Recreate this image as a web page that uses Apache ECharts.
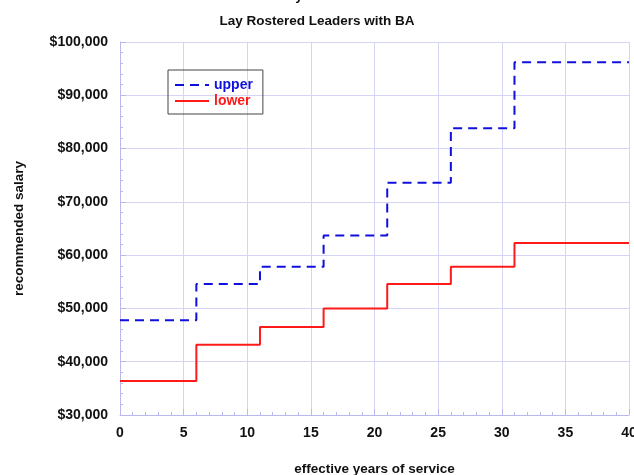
<!DOCTYPE html>
<html>
<head>
<meta charset="utf-8">
<script src="https://cdn.jsdelivr.net/npm/echarts@6/dist/echarts.min.js"></script>
<style>
  html, body { margin: 0; padding: 0; background: #fff; }
  #chart { width: 634px; height: 475px; }
</style>
</head>
<body>
<div id="chart"></div>
<script>
// step breakpoints (years) and salary levels
const years = [0, 6, 11, 16, 21, 26, 31, 40]
const upper = [47800, 54600, 57800, 63700, 73600, 83800, 96200, 96200]
const lower = [36400, 43200, 46500, 50000, 54600, 57800, 62300, 62300]

const toPairs = (vals) => years.map((y, i) => [y, vals[i]])

const chart = echarts.init(document.getElementById('chart'))

const font = 'Liberation Sans, Arial, sans-serif'
const gridColor = '#d4d4f6'
const axisColor = '#b8b8ee'

const option = {
  animation: false,
  title: {
    text: 'Lay Rostered Leaders with BA',
    left: 'center',
    top: 9,
    textStyle: { fontFamily: font, fontSize: 13.5, fontWeight: 'bold', color: '#111' }
  },
  graphic: [
    {
      type: 'text',
      left: 'center',
      top: -11,
      style: { text: 'effective years of service', font: 'bold 13.5px ' + font, fill: '#111' }
    }
  ],
  legend: {
    orient: 'vertical',
    left: 168,
    top: 70,
    padding: [8, 10, 6, 6],
    itemGap: 2,
    itemWidth: 34,
    itemHeight: 12,
    borderColor: '#444',
    borderWidth: 1,
    itemStyle: { opacity: 0 },
    data: [
      { name: 'upper', textStyle: { color: '#1010dd' } },
      { name: 'lower', textStyle: { color: '#ff1a1a' } }
    ],
    textStyle: { fontFamily: font, fontSize: 14, fontWeight: 'bold' }
  },
  grid: { left: 120, right: 5, top: 42, bottom: 60, outerBoundsMode: 'none' },
  xAxis: {
    type: 'value',
    min: 0,
    max: 40,
    interval: 5,
    name: 'effective years of service',
    nameLocation: 'middle',
    nameGap: 47,
    nameTextStyle: { fontFamily: font, fontSize: 13.5, fontWeight: 'bold', color: '#111' },
    axisLine: { lineStyle: { color: axisColor } },
    axisTick: { inside: true, length: 6, lineStyle: { color: axisColor } },
    minorTick: { show: true, splitNumber: 5, length: 3, lineStyle: { color: axisColor } },
    axisLabel: { fontFamily: font, fontSize: 14, fontWeight: 'bold', color: '#111', margin: 11 },
    splitLine: { show: true, lineStyle: { color: gridColor } }
  },
  yAxis: {
    type: 'value',
    min: 30000,
    max: 100000,
    interval: 10000,
    name: 'recommended salary',
    nameLocation: 'middle',
    nameGap: 94,
    nameTextStyle: { fontFamily: font, fontSize: 13.5, fontWeight: 'bold', color: '#111' },
    axisLine: { show: true, lineStyle: { color: axisColor } },
    axisTick: { show: true, inside: true, length: 6, lineStyle: { color: axisColor } },
    minorTick: { show: true, splitNumber: 5, length: 3, lineStyle: { color: axisColor } },
    axisLabel: {
      fontFamily: font, fontSize: 14, fontWeight: 'bold', color: '#111', margin: 12,
      formatter: (v) => '$' + v.toLocaleString('en-US')
    },
    splitLine: { show: true, lineStyle: { color: gridColor } }
  },
  series: [
    {
      name: 'upper',
      type: 'line',
      step: 'end',
      data: toPairs(upper),
      symbol: 'none',
      color: '#1010dd',
      lineStyle: { width: 2, type: [9, 6], color: '#1010dd' }
    },
    {
      name: 'lower',
      type: 'line',
      step: 'end',
      data: toPairs(lower),
      symbol: 'none',
      color: '#ff1a1a',
      lineStyle: { width: 2, color: '#ff1a1a' }
    }
  ]
}

chart.setOption(option)
</script>
</body>
</html>
